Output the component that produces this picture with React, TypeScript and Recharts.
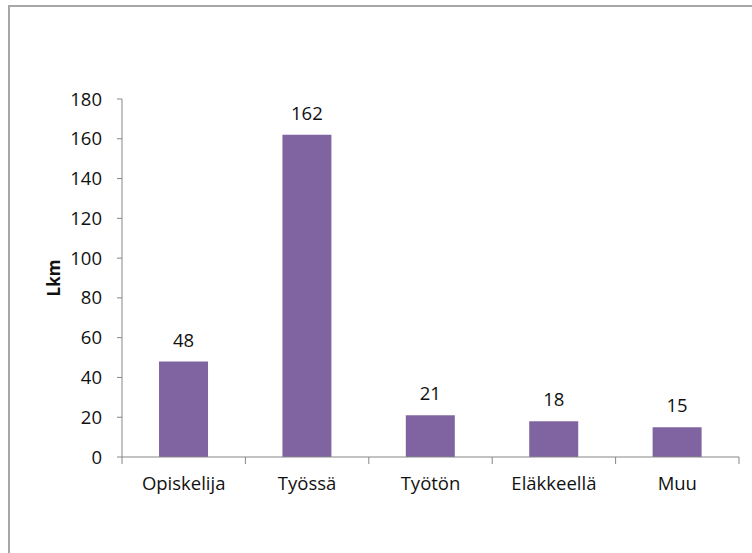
// Työtilanne – bar chart of respondents by employment status
import React from "react";
import { BarChart, Bar, XAxis, YAxis, LabelList, Label } from "recharts";

const categories = ["Opiskelija", "Työssä", "Työtön", "Eläkkeellä", "Muu"];
const counts = [48, 162, 21, 18, 15];
const yTicks = [0, 20, 40, 60, 80, 100, 120, 140, 160, 180];

const data = categories.map((name, i) => ({ name, value: counts[i] }));

const W = 752;
const H = 553;
const Y_AXIS_W = 122;
const RIGHT = 13;
const BAND = (W - Y_AXIS_W - RIGHT) / categories.length;
const AXIS = "#868686";
const TEXT = "#111";
const FONT = "'Open Sans', sans-serif";
const FS = 18.5;

// Excel style x ticks: label in the middle, tick marks on the category edges
function CategoryTick(props: any) {
  const { x, y, payload, index } = props;
  const last = index === categories.length - 1;
  return (
    <g>
      <line x1={x - BAND / 2} x2={x - BAND / 2} y1={y} y2={y + 7} stroke={AXIS} />
      {last && <line x1={x + BAND / 2} x2={x + BAND / 2} y1={y} y2={y + 7} stroke={AXIS} />}
      <text x={x} y={y + 20} dy="0.71em" textAnchor="middle" fill={TEXT} fontSize={FS} fontFamily={FONT}>
        {payload.value}
      </text>
    </g>
  );
}

export default function App() {
  return (
    <div style={{ position: "fixed", left: 0, top: 0, width: W, height: H, overflow: "hidden", background: "#fff" }}>
      <div
        style={{
          position: "absolute",
          left: 8,
          top: 5,
          width: W,
          height: H,
          borderTop: "2px solid #a6a6a6",
          borderLeft: "2px solid #a6a6a6",
        }}
      />
      <div style={{ position: "absolute", left: 0, top: 0 }}>
        <BarChart
          width={W}
          height={H}
          data={data}
          margin={{ top: 99, right: RIGHT, bottom: 56, left: 0 }}
          barCategoryGap="30%"
        >
          <XAxis
            dataKey="name"
            height={40}
            stroke={AXIS}
            tickLine={false}
            tickSize={0}
            tickMargin={0}
            interval={0}
            tick={<CategoryTick />}
          />
          <YAxis
            width={Y_AXIS_W}
            domain={[0, 180]}
            ticks={yTicks}
            interval={0}
            stroke={AXIS}
            tickSize={5}
            tickMargin={15}
            tick={{ fill: TEXT, fontSize: FS, fontFamily: FONT }}
          >
            <Label
              content={({ viewBox }: any) => {
                const cx = viewBox.x + 53;
                const cy = viewBox.y + viewBox.height / 2;
                return (
                  <text
                    x={cx}
                    y={cy}
                    transform={`rotate(-90, ${cx}, ${cy})`}
                    textAnchor="middle"
                    dominantBaseline="central"
                    fontWeight="bold"
                    fontSize={17}
                    fontFamily={FONT}
                    fill={TEXT}
                  >
                    Lkm
                  </text>
                );
              }}
            />
          </YAxis>
          <Bar dataKey="value" fill="#8064A2" isAnimationActive={false}>
            <LabelList dataKey="value" position="top" offset={15} fill={TEXT} fontSize={FS} fontFamily={FONT} />
          </Bar>
        </BarChart>
      </div>
    </div>
  );
}
